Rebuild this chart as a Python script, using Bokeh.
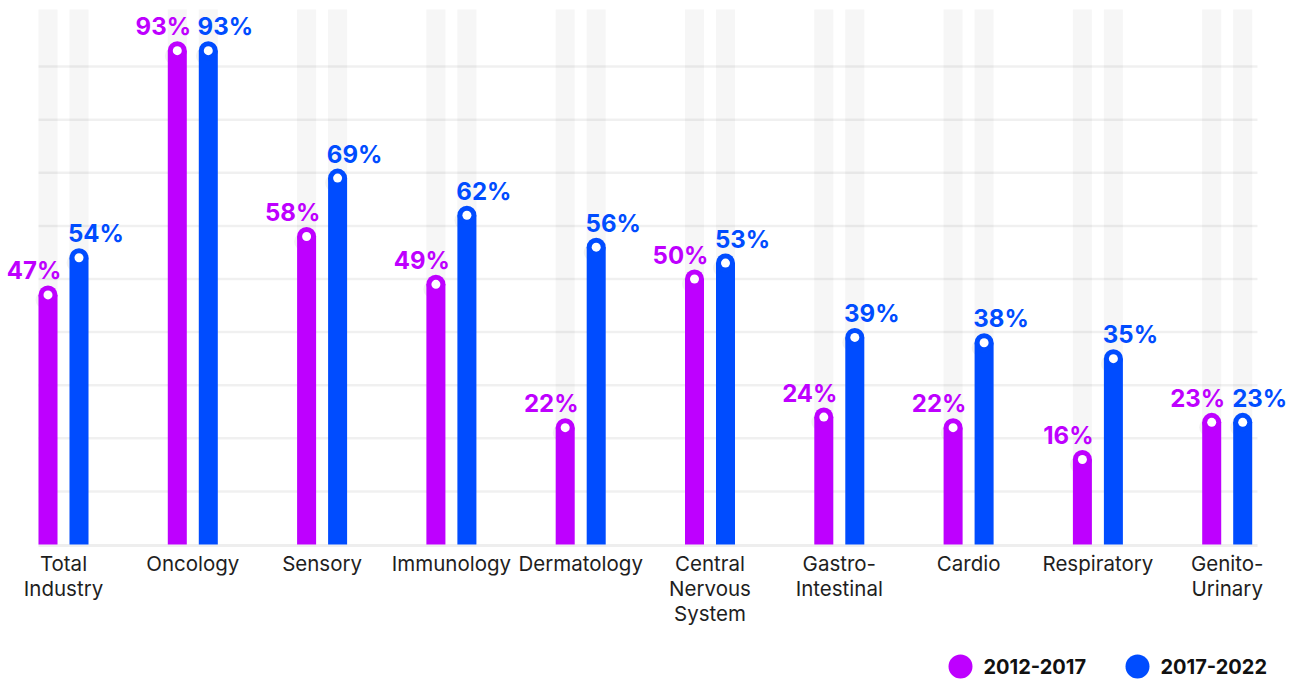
from bokeh.plotting import figure
from bokeh.models import ColumnDataSource, Range1d
from bokeh.core.properties import value
from bokeh.embed import file_html
from bokeh.resources import INLINE

# ---- data ----
categories = ["Total\nIndustry", "Oncology", "Sensory", "Immunology", "Dermatology",
              "Central\nNervous\nSystem", "Gastro-\nIntestinal", "Cardio", "Respiratory",
              "Genito-\nUrinary"]
series_names = ["2012-2017", "2017-2022"]
values_a = [47, 93, 58, 49, 22, 50, 24, 22, 16, 23]
values_b = [54, 93, 69, 62, 56, 53, 39, 38, 35, 23]
grid_ticks = [10, 20, 30, 40, 50, 60, 70, 80, 90]

# ---- layout / style ----
W, H = 1299, 679
PX_GROUP = 129.3      # pixels per category
GROUP0_PX = 63        # pixel x of first group centre
PX_UNIT = 5.31        # pixels per percentage point
BASE_PX = 544         # pixel y of the zero line
COL_A = "#BE00FF"
COL_B = "#004CFF"
FONT = value("Inter")

def dx(px):  # pixel distance -> x data
    return px / PX_GROUP

def dy(px):  # pixel distance -> y data
    return px / PX_UNIT

def xpx(px):  # absolute pixel x -> data
    return (px - GROUP0_PX) / PX_GROUP

def ypx(px):  # absolute pixel y (from top) -> data
    return (BASE_PX - px) / PX_UNIT

p = figure(width=W, height=H, output_backend="svg", toolbar_location=None,
           x_range=Range1d(xpx(0), xpx(W)), y_range=Range1d(ypx(H), ypx(0)),
           x_axis_type=None, y_axis_type=None, min_border=0,
           outline_line_color=None, background_fill_color="white")
p.xgrid.visible = False
p.ygrid.visible = False

idx = list(range(len(categories)))
off = dx(15.5)
bw = dx(19)
xa = [i - off for i in idx]
xb = [i + off for i in idx]
col_top = ypx(9)

# background columns
p.vbar(x=xa + xb, width=bw, bottom=0, top=[col_top] * (2 * len(idx)),
       fill_color="#f6f6f6", line_color=None)

# gridlines
gx0, gx1 = xpx(38), xpx(1257)
p.segment(x0=[gx0] * len(grid_ticks), x1=[gx1] * len(grid_ticks), y0=grid_ticks, y1=grid_ticks,
          line_color="black", line_alpha=0.06, line_width=2.5)
# baseline
p.segment(x0=[gx0], x1=[gx1], y0=[0 - dy(1)], y1=[0 - dy(1)], line_color="#eeeeee", line_width=3)

for xs, vals, col, lab_dx in ((xa, values_a, COL_A, -14), (xb, values_b, COL_B, 17)):
    src = ColumnDataSource(dict(x=xs, v=vals, lx=[x + dx(lab_dx) for x in xs],
                                ly=[v + dy(24) for v in vals],
                                sx=[x - dx(4) for x in xs], sy=[v - dy(5) for v in vals],
                                t=[f"{v}%" for v in vals]))
    # cap shadow
    p.scatter(x="sx", y="sy", source=src, size=17, marker="circle",
              fill_color="black", fill_alpha=0.05, line_color=None)
    p.vbar(x="x", width=bw, bottom=0, top="v", source=src, fill_color=col, line_color=None)
    p.scatter(x="x", y="v", source=src, size=19, marker="circle", fill_color=col, line_color=None)
    p.scatter(x="x", y="v", source=src, size=9, marker="circle", fill_color="white", line_color=None)
    p.text(x="lx", y="ly", text="t", source=src, text_font=FONT, text_font_style="bold",
           text_font_size="24px", text_color=col, text_align="center", text_baseline="middle")

# category labels
p.text(x=idx, y=[ypx(550)] * len(idx), text=categories, text_font=FONT,
       text_font_size="20.5px", text_color="#1e1e1e", text_align="center",
       text_baseline="top", text_line_height=1.0)

# legend
leg_y = ypx(666)
p.scatter(x=[xpx(960), xpx(1137)], y=[leg_y, leg_y], size=24, marker="circle",
          fill_color=[COL_A, COL_B], line_color=None)
p.text(x=[xpx(983), xpx(1160)], y=[leg_y, leg_y], text=series_names, text_font=FONT,
       text_font_style="bold", text_font_size="20px", text_color="#111111",
       text_align="left", text_baseline="middle")

open("out.html", "w").write(file_html(p, INLINE))
